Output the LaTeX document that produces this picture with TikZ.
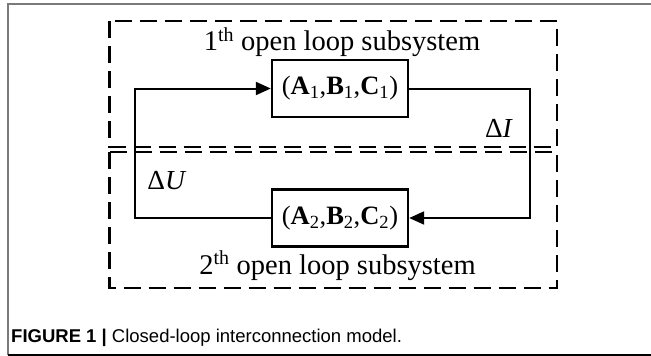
\documentclass[tikz,border=0pt]{standalone}
\usepackage{fontspec}
\setmainfont{Liberation Serif}
\newfontfamily\capfont{Liberation Sans}
\usetikzlibrary{arrows.meta, positioning}
\definecolor{frameGrey}{HTML}{7A7A7A}
\tikzset{
  sysbox/.style   = {draw, line width=2.4pt, minimum width=136pt, minimum height=57pt,
                     inner sep=0pt, font=\fontsize{26.5}{30}\selectfont},
  subsys/.style   = {line width=2.2pt, dash pattern=on 17pt off 8pt},
  flow/.style     = {-{Triangle[length=15pt, width=13pt]}, line width=2pt},
  sublbl/.style   = {font=\fontsize{28.5}{32}\selectfont, inner sep=0pt},
  siglbl/.style   = {font=\fontsize{27.5}{30}\selectfont, inner sep=0pt},
  caplbl/.style   = {font=\capfont\fontsize{18.5}{22}\selectfont, inner sep=0pt},
}

\begin{document}
\begin{tikzpicture}[x=1pt, y=-1pt]
  \useasboundingbox (0,0) rectangle (651,356);

  % outer frame of the figure
  \draw[frameGrey, line width=1.5pt] (8,355) -- (8,4) -- (651,4);
  \draw[black, line width=1.2pt] (8,355) -- (651,355);

  % the two open loop subsystems
  \draw[subsys] (109.5,21) rectangle (557,147);
  \draw[subsys] (109.5,152) rectangle (557,288);

  \node[sysbox] (blkA) at (340,88.5)
    {(\textbf{A}\textsubscript{1},\textbf{B}\textsubscript{1},\textbf{C}\textsubscript{1})};
  \node[sysbox] (blkB) at (340,218)
    {(\textbf{A}\textsubscript{2},\textbf{B}\textsubscript{2},\textbf{C}\textsubscript{2})};

  \coordinate (loopL) at (135,150);
  \coordinate (loopR) at (530,150);

  \draw[flow] (blkB.west) -| (loopL) |- (blkA.west);
  \draw[flow] (blkA.east) -| (loopR) |- (blkB.east);

  \node[sublbl, anchor=base] (titleA) at (342,50.7) {1\textsuperscript{th} open loop subsystem};
  \node[sublbl, anchor=base] (titleB) at (337.5,274) {2\textsuperscript{th} open loop subsystem};

  \node[siglbl] (dI) at (499,128.5) {Δ\textit{I}};
  \node[siglbl] (dU) at (167,181) {Δ\textit{U}};

  \node[caplbl, anchor=base west] (caption) at (11,342)
    {\textbf{FIGURE 1 |} Closed-loop interconnection model.};
\end{tikzpicture}
\end{document}
